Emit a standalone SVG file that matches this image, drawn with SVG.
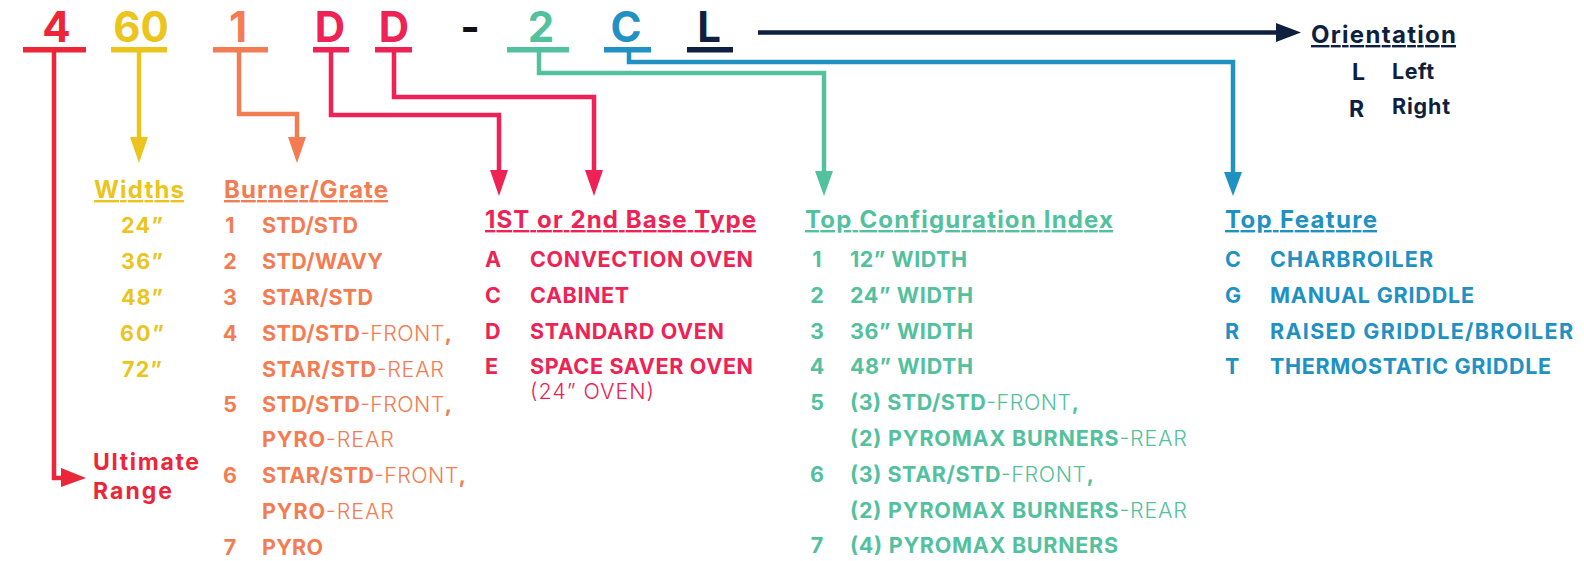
<svg xmlns="http://www.w3.org/2000/svg" width="1584" height="561" viewBox="0 0 1584 561">
<style>
text{font-family:Inter,"Liberation Sans",sans-serif;font-weight:700}
.big{font-size:42px;text-anchor:middle}
.b{font-size:21.5px}
.h{font-size:24px;text-decoration:underline}
.l{font-weight:300}
.mid{text-anchor:middle}
.red{fill:#EC2538}.yel{fill:#EBC41E}.org{fill:#F47C53}.crm{fill:#EE2254}.grn{fill:#53C19E}.blu{fill:#2191C4}.nav{fill:#0E1F40}
.sr{stroke:#EC2538}.sy{stroke:#EBC41E}.so{stroke:#F47C53}.sc{stroke:#EE2254}.sg{stroke:#53C19E}.sb{stroke:#2191C4}.sn{stroke:#0E1F40}
.c{fill:none;stroke-width:4.5;stroke-linejoin:miter}
</style>
<rect width="1584" height="561" fill="#fff"/>
<g id="code">
<text class="big red" x="56.5" y="42">4</text>
<text class="big yel" x="141" y="42">60</text>
<text class="big org" x="238" y="42">1</text>
<text class="big crm" x="330" y="42">D</text>
<text class="big crm" x="394" y="42">D</text>
<text class="big" x="470" y="42" fill="#111">-</text>
<text class="big grn" x="541" y="42">2</text>
<text class="big blu" x="626" y="42">C</text>
<text class="big nav" x="709" y="42">L</text>
<rect class="red" x="23" y="47" width="63" height="5.5"/>
<rect class="yel" x="111" y="47" width="56" height="5.5"/>
<rect class="org" x="213" y="47" width="55" height="5.5"/>
<rect class="crm" x="313" y="47" width="36" height="5.5"/>
<rect class="crm" x="375" y="47" width="37" height="5.5"/>
<rect class="grn" x="507" y="47" width="62" height="5.5"/>
<rect class="blu" x="604" y="47" width="47" height="5.5"/>
<rect class="nav" x="687" y="47" width="46" height="5.5"/>
</g>
<g id="connectors">
<path class="c sr" d="M54 52 V478 H63"/>
<polygon class="red" points="61,468 86,478 61,487"/>
<path class="c sy" d="M139 52 V139"/>
<polygon class="yel" points="130,137 148,137 139,163"/>
<path class="c so" d="M239 52 V114 H297 V139"/>
<polygon class="org" points="288,137 306,137 297,163"/>
<path class="c sc" d="M331 52 V115 H499 V172"/>
<polygon class="crm" points="490,170 508,170 499,196"/>
<path class="c sc" d="M394 52 V97 H594 V172"/>
<polygon class="crm" points="585,170 603,170 594,196"/>
<path class="c sg" d="M539 52 V73 H824 V173"/>
<polygon class="grn" points="815,171 833,171 824,196"/>
<path class="c sb" d="M629 52 V62 H1233 V174"/>
<polygon class="blu" points="1224,172 1242,172 1233,196"/>
<path class="c sn" d="M758 32.5 H1278"/>
<polygon class="nav" points="1276,23 1301,32.5 1276,42"/>
</g>
<g id="ultimate-range">
<text class="red" font-size="23" x="93" y="470" textLength="106">Ultimate</text>
<text class="red" font-size="23" x="93" y="499" textLength="79">Range</text>
</g>
<g id="widths">
<text class="h yel" x="94" y="198" textLength="90">Widths</text>
<text class="b yel mid" x="142" y="233" textLength="42">24”</text>
<text class="b yel mid" x="142" y="269" textLength="42">36”</text>
<text class="b yel mid" x="142" y="305" textLength="42">48”</text>
<text class="b yel mid" x="142" y="341" textLength="44">60”</text>
<text class="b yel mid" x="142" y="377" textLength="40">72”</text>
</g>
<g id="burner-grate">
<text class="h org" x="224" y="198" textLength="164">Burner/Grate</text>
<text class="b org mid" x="230" y="233">1</text>
<text class="b org mid" x="230" y="269">2</text>
<text class="b org mid" x="230" y="305">3</text>
<text class="b org mid" x="230" y="341">4</text>
<text class="b org mid" x="230" y="412">5</text>
<text class="b org mid" x="230" y="483">6</text>
<text class="b org mid" x="230" y="555">7</text>
<text class="b org" x="262" y="233" textLength="96">STD/STD</text>
<text class="b org" x="262" y="269" textLength="121">STD/WAVY</text>
<text class="b org" x="262" y="305" textLength="111">STAR/STD</text>
<text class="b org" x="262" y="341" textLength="190">STD/STD<tspan class="l">-FRONT</tspan>,</text>
<text class="b org" x="262" y="377" textLength="182">STAR/STD<tspan class="l">-REAR</tspan></text>
<text class="b org" x="262" y="412" textLength="190">STD/STD<tspan class="l">-FRONT</tspan>,</text>
<text class="b org" x="262" y="447" textLength="132">PYRO<tspan class="l">-REAR</tspan></text>
<text class="b org" x="262" y="483" textLength="204">STAR/STD<tspan class="l">-FRONT</tspan>,</text>
<text class="b org" x="262" y="519" textLength="132">PYRO<tspan class="l">-REAR</tspan></text>
<text class="b org" x="262" y="555" textLength="61">PYRO</text>
</g>
<g id="base-type">
<text class="h crm" x="485" y="228" textLength="271">1ST or 2nd Base Type</text>
<text class="b crm" x="485" y="267">A</text>
<text class="b crm" x="485" y="303">C</text>
<text class="b crm" x="485" y="339">D</text>
<text class="b crm" x="485" y="374">E</text>
<text class="b crm" x="530" y="267" textLength="223">CONVECTION OVEN</text>
<text class="b crm" x="530" y="303" textLength="99">CABINET</text>
<text class="b crm" x="530" y="339" textLength="194">STANDARD OVEN</text>
<text class="b crm" x="530" y="374" textLength="223">SPACE SAVER OVEN</text>
<text class="b crm l" x="530" y="399" textLength="124">(24” OVEN)</text>
</g>
<g id="top-configuration">
<text class="h grn" x="805" y="228" textLength="308">Top Configuration Index</text>
<text class="b grn mid" x="817" y="267">1</text>
<text class="b grn mid" x="817" y="303">2</text>
<text class="b grn mid" x="817" y="339">3</text>
<text class="b grn mid" x="817" y="374">4</text>
<text class="b grn mid" x="817" y="410">5</text>
<text class="b grn mid" x="817" y="482">6</text>
<text class="b grn mid" x="817" y="553">7</text>
<text class="b grn" x="850" y="267" textLength="117">12” WIDTH</text>
<text class="b grn" x="850" y="303" textLength="123">24” WIDTH</text>
<text class="b grn" x="850" y="339" textLength="123">36” WIDTH</text>
<text class="b grn" x="850" y="374" textLength="123">48” WIDTH</text>
<text class="b grn" x="850" y="410" textLength="229">(3) STD/STD<tspan class="l">-FRONT</tspan>,</text>
<text class="b grn" x="850" y="446" textLength="337">(2) PYROMAX BURNERS<tspan class="l">-REAR</tspan></text>
<text class="b grn" x="850" y="482" textLength="244">(3) STAR/STD<tspan class="l">-FRONT</tspan>,</text>
<text class="b grn" x="850" y="518" textLength="337">(2) PYROMAX BURNERS<tspan class="l">-REAR</tspan></text>
<text class="b grn" x="850" y="553" textLength="268">(4) PYROMAX BURNERS</text>
</g>
<g id="top-feature">
<text class="h blu" x="1225" y="228" textLength="152">Top Feature</text>
<text class="b blu" x="1225" y="267">C</text>
<text class="b blu" x="1225" y="303">G</text>
<text class="b blu" x="1225" y="339">R</text>
<text class="b blu" x="1225" y="374">T</text>
<text class="b blu" x="1270" y="267" textLength="163">CHARBROILER</text>
<text class="b blu" x="1270" y="303" textLength="204">MANUAL GRIDDLE</text>
<text class="b blu" x="1270" y="339" textLength="303">RAISED GRIDDLE/BROILER</text>
<text class="b blu" x="1270" y="374" textLength="281">THERMOSTATIC GRIDDLE</text>
</g>
<g id="orientation">
<text class="h nav" x="1311" y="43" textLength="145">Orientation</text>
<text class="nav" font-size="23" x="1352" y="80">L</text>
<text class="b nav" x="1392" y="79" textLength="42">Left</text>
<text class="nav" font-size="23" x="1349" y="117">R</text>
<text class="b nav" x="1392" y="114" textLength="58">Right</text>
</g>
</svg>
